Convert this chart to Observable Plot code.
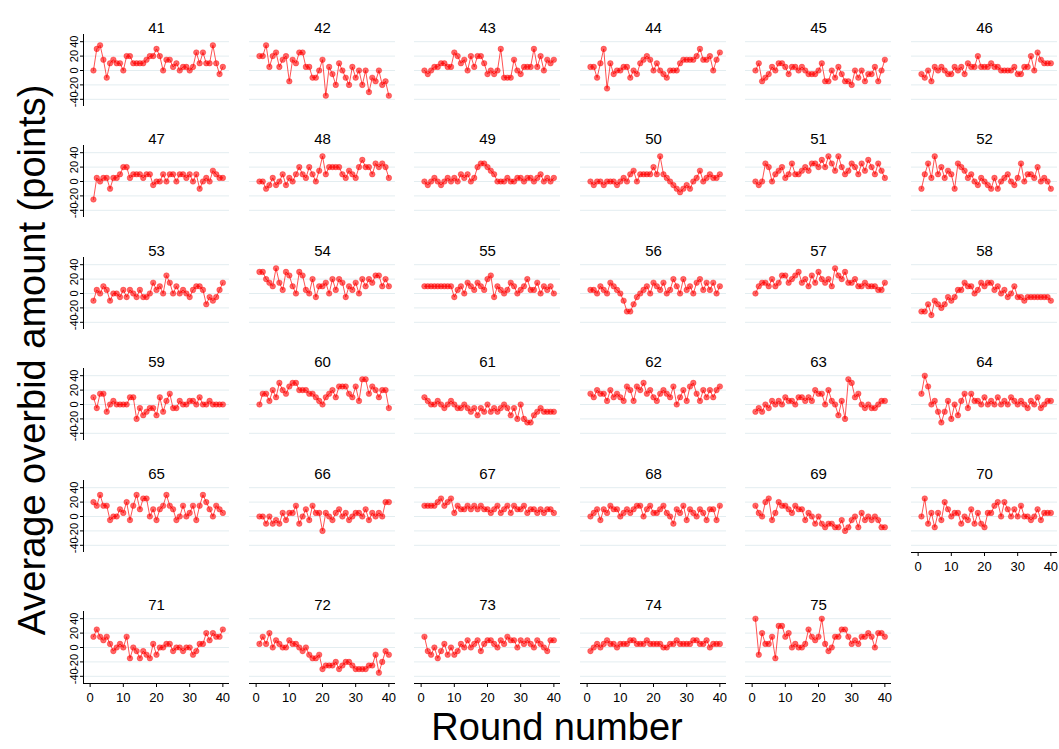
<!DOCTYPE html>
<html><head><meta charset="utf-8">
<script src="https://cdn.jsdelivr.net/npm/d3@7"></script>
<script src="https://cdn.jsdelivr.net/npm/@observablehq/plot@0.6"></script>
<style>
body{margin:0;background:#fff;font-family:"Liberation Sans",Arial,sans-serif;}
#chart{position:relative;width:1059px;height:749px;overflow:hidden;background:#fff;}
.atitle{position:absolute;font-size:38px;white-space:nowrap;color:#000;transform:translate(-50%,-50%);}
#ytitle{left:32px;top:360px;transform:translate(-50%,-50%) rotate(-90deg);}
#xtitle{left:557px;top:727px;}
</style></head>
<body><div id="chart"><div class="atitle" id="ytitle">Average overbid amount (points)</div><div class="atitle" id="xtitle">Round number</div></div>
<script>
const xTicks = [0,10,20,30,40];
const yTicks = [-40,-20,0,20,40];
const groupIds = d3.range(41,76);

const g41 = [0,30,35,15,-10,10,15,10,10,0,20,20,10,10,10,10,15,20,20,30,20,0,15,15,5,10,0,5,5,0,5,25,10,25,10,10,35,10,-5,5];
const g42 = [20,20,35,5,20,25,5,15,20,-15,15,10,25,25,5,5,-10,-10,0,15,-35,5,-5,-20,10,0,-10,-20,5,-10,0,-20,0,-30,-10,-15,0,-20,-15,-35];
const g43 = [0,-5,0,5,5,10,10,5,5,25,20,10,15,0,20,5,20,20,10,-5,0,-5,0,30,-10,-10,-10,15,0,-5,5,5,5,30,5,20,0,15,10,15];
const g44 = [5,5,-10,10,30,-25,10,-5,0,0,5,5,-10,0,-5,10,15,20,15,0,10,0,-5,-10,0,0,0,10,15,15,15,15,20,30,15,15,20,0,15,25];
const g45 = [0,10,-15,-10,-5,5,0,10,10,5,-5,5,5,0,5,0,-5,-5,-5,0,10,-15,-15,0,-10,5,-5,-15,-15,-20,0,-10,0,-15,-5,-5,5,-15,0,15];
const g46 = [-5,-10,0,-15,5,0,5,0,-5,-5,5,0,5,-5,10,5,5,20,5,5,5,10,5,5,0,0,0,0,5,-5,-5,5,5,20,0,25,15,10,10,10];
const g47 = [-25,5,0,5,5,-10,5,5,10,20,20,5,10,10,10,5,10,10,-5,0,0,10,0,10,10,0,10,10,5,10,0,10,-10,0,5,0,15,10,5,5];
const g48 = [0,0,-10,-5,5,-5,0,10,-5,5,0,10,20,10,5,20,10,0,15,35,10,20,20,20,20,10,5,15,10,5,20,30,20,20,10,25,20,25,20,5];
const g49 = [0,-5,0,5,0,-5,0,5,0,5,0,10,5,10,0,5,20,25,25,20,15,10,0,0,0,5,0,0,5,5,0,5,5,0,5,10,0,5,0,5];
const g50 = [0,-5,0,0,-5,0,0,0,-5,0,5,0,10,15,0,10,10,10,10,20,10,35,10,5,0,-5,-10,-15,-10,-5,-10,0,5,15,0,5,10,5,5,10];
const g51 = [0,-5,0,25,20,0,10,15,20,5,10,25,10,10,15,20,15,25,25,20,30,20,35,25,15,35,20,10,15,25,20,10,25,15,30,20,10,25,15,5];
const g52 = [-10,10,25,5,35,10,20,5,15,10,-10,25,20,15,5,10,0,-5,5,0,-5,-10,5,-10,0,5,10,0,-5,5,25,0,10,10,5,20,0,5,0,-10];
const g53 = [-10,5,0,10,5,-10,0,0,-5,5,-5,5,0,-5,5,-5,-5,0,15,5,10,0,25,15,0,10,0,5,0,-5,5,10,10,5,-15,-5,-10,-5,5,15];
const g54 = [30,30,20,15,10,35,15,5,30,25,10,0,30,25,5,0,20,-5,10,10,15,0,20,5,20,15,-5,10,5,15,0,20,10,20,15,25,25,10,20,10];
const g55 = [10,10,10,10,10,10,10,10,10,-5,5,10,0,15,10,5,15,10,5,20,25,-5,10,5,0,5,15,10,0,5,10,20,5,5,15,0,10,5,10,0];
const g56 = [5,5,0,10,5,0,15,10,5,0,-10,-25,-25,-15,-5,0,5,10,0,15,10,5,15,0,5,20,10,0,20,5,10,0,15,20,5,15,5,15,0,10];
const g57 = [0,10,15,15,10,20,10,15,25,25,15,20,25,30,15,20,10,25,15,30,20,15,20,10,35,25,20,30,15,15,20,10,10,15,10,10,10,5,5,15];
const g58 = [-25,-25,-15,-30,-10,-15,-20,-15,-5,-10,-5,5,5,15,10,10,0,5,15,10,15,15,5,10,0,5,-5,0,10,-5,-5,-10,-5,-5,-5,-5,-5,-5,-5,-10];
const g59 = [10,-5,15,15,-10,0,5,0,0,0,0,10,10,-20,-5,-15,-10,-5,-5,-15,10,-10,5,15,-5,-5,5,0,0,5,5,0,10,0,0,5,0,0,0,0];
const g60 = [0,15,15,5,20,10,30,20,15,25,30,30,20,20,20,15,15,10,5,0,10,15,20,10,25,25,25,15,10,25,5,35,35,15,25,20,10,20,20,-5];
const g61 = [10,5,0,0,5,0,-5,0,5,0,-5,-5,0,-5,-10,-5,-15,-5,-10,0,-10,-5,-10,-5,0,-5,-15,-5,-20,0,-20,-25,-25,-15,-10,-5,-10,-10,-10,-10];
const g62 = [15,10,20,15,15,5,20,10,15,10,5,25,20,5,25,20,30,15,20,10,5,15,20,15,10,25,0,10,20,5,25,30,15,5,20,10,20,10,20,25];
const g63 = [-10,-5,-10,0,-5,5,0,5,0,10,5,5,0,10,10,5,10,5,20,15,15,0,20,5,0,-15,5,-20,35,30,10,15,0,-5,0,-5,-5,0,5,5];
const g64 = [15,40,25,0,5,-10,-25,-10,5,-20,0,-15,5,15,-5,15,5,5,0,10,0,5,0,10,0,5,0,10,5,0,5,0,-5,5,0,10,-5,0,5,5];
const g65 = [20,15,30,15,15,-5,0,0,10,5,20,-5,15,30,10,25,25,0,10,-5,10,15,30,15,10,-5,0,15,0,5,15,-5,15,30,20,10,0,15,10,5];
const g66 = [0,0,-10,0,-10,-5,-10,5,-5,5,5,15,-10,0,10,-5,15,5,5,-20,5,0,-5,5,10,0,5,-5,0,5,5,0,10,-5,5,0,5,0,20,20];
const g67 = [15,15,15,15,20,25,15,20,25,5,15,10,10,15,10,15,10,15,10,10,5,10,15,5,10,15,5,15,10,10,15,5,10,10,5,10,5,10,10,5];
const g68 = [0,5,10,-5,10,5,15,10,10,0,5,10,5,10,15,15,0,10,15,5,5,10,15,5,0,-10,10,5,15,-5,10,5,0,10,5,-5,10,10,-5,15];
const g69 = [15,5,0,20,25,-5,5,20,15,15,10,5,15,10,10,-5,5,0,-10,0,-10,-15,-10,-10,-15,-15,-5,-20,-15,-5,0,-15,5,-5,0,-5,0,-5,-15,-15];
const g70 = [0,25,-10,5,-15,5,-5,20,10,0,5,5,-10,0,-5,10,-10,5,-10,-15,5,5,15,20,0,20,10,0,10,0,15,0,0,-5,0,10,-5,5,5,5];
const g71 = [15,25,15,10,15,5,-5,0,5,0,15,-15,0,-5,-15,-5,-10,-15,5,-10,0,0,5,5,-5,0,0,-5,0,0,-10,-5,5,5,20,10,20,15,15,25];
const g72 = [5,15,5,20,0,10,5,0,0,10,5,5,0,-5,0,-10,-15,-15,-10,-30,-25,-25,-25,-20,-30,-25,-20,-20,-25,-30,-30,-30,-30,-25,-25,-10,-35,-20,-5,-10];
const g73 = [15,-5,-10,0,-15,-5,5,-10,0,-10,-5,5,0,10,0,5,10,-5,5,10,10,5,0,10,5,15,10,10,0,10,5,10,5,0,10,5,0,-5,10,10];
const g74 = [-5,0,5,0,5,10,5,5,0,5,5,5,10,10,5,5,5,10,5,5,5,5,0,0,5,5,10,5,5,5,5,10,10,5,5,10,0,5,5,5];
const g75 = [40,-10,20,5,5,15,-15,30,30,15,20,0,5,0,0,5,25,15,10,15,40,5,-5,0,15,15,25,25,15,5,10,5,15,15,20,15,0,20,20,15];

const series = {41:g41,42:g42,43:g43,44:g44,45:g45,46:g46,47:g47,48:g48,49:g49,50:g50,51:g51,52:g52,53:g53,54:g54,55:g55,56:g56,57:g57,58:g58,59:g59,60:g60,61:g61,62:g62,63:g63,64:g64,65:g65,66:g66,67:g67,68:g68,69:g69,70:g70,71:g71,72:g72,73:g73,74:g74,75:g75};

const colLeft = [83, 248.5, 414, 579.5, 745, 910.5];
const rowTop = [33.5, 145, 256.5, 368, 479.5, 611];
const PW = 146, PH = 72, ML = 30, MR = 4, MT = 24;
const chart = document.getElementById("chart");

groupIds.forEach((id, i) => {
  const row = Math.floor(i / 6), col = i % 6;
  const hasY = col === 0;
  const hasX = row === 5 || id === 70;
  const MB = hasX ? 30 : 4;
  const rows = series[id].map((v, k) => ({round: k + 1, value: v}));
  const marks = [
    Plot.gridY(yTicks, {stroke: "#e3edf0", strokeOpacity: 1}),
    Plot.line(rows, {x: "round", y: "value", stroke: "#ff0000", strokeWidth: 0.8, strokeOpacity: 0.85}),
    Plot.dot(rows, {x: "round", y: "value", r: 2.8, fill: "#ff0000", fillOpacity: 0.6, stroke: "#ff0000", strokeOpacity: 0.5, strokeWidth: 0.6}),
    Plot.text([String(id)], {text: d => d, frameAnchor: "top", dy: -12, fontSize: 15, fill: "#000"})
  ];
  if (hasY) marks.push(
    Plot.ruleX([-2], {stroke: "#000", strokeWidth: 1}),
    Plot.axisY(yTicks, {tickRotate: -90, tickSize: 3, tickPadding: 3, fontSize: 11, label: null, tickFormat: d => String(d)})
  );
  if (hasX) marks.push(
    Plot.ruleY([-50], {stroke: "#000", strokeWidth: 1}),
    Plot.axisX(xTicks, {tickSize: 4, fontSize: 13, label: null, tickFormat: d => String(d)})
  );
  const svg = Plot.plot({
    width: ML + PW + MR, height: MT + PH + MB,
    marginLeft: ML, marginRight: MR, marginTop: MT, marginBottom: MB,
    x: {domain: [-2, 42], axis: null},
    y: {domain: [-50, 50], axis: null},
    style: {background: "transparent", overflow: "visible", fontFamily: "Liberation Sans, Arial, sans-serif"},
    marks
  });
  svg.style.position = "absolute";
  svg.style.left = (colLeft[col] - ML) + "px";
  svg.style.top = (rowTop[row] - MT) + "px";
  chart.appendChild(svg);
});
</script>
</body></html>
